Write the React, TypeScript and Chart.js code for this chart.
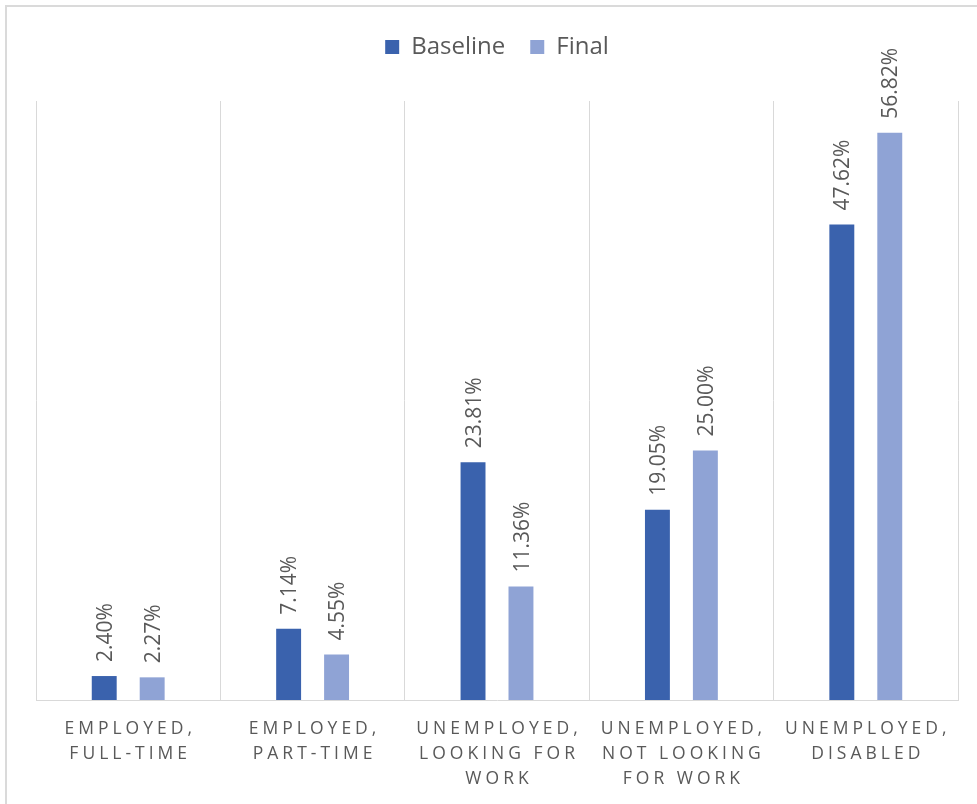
import React, { useEffect, useRef } from "react";
import { Chart, registerables } from "chart.js";

Chart.register(...registerables);

const categoryLines: string[][] = [
  ["EMPLOYED,", "FULL-TIME"],
  ["EMPLOYED,", "PART-TIME"],
  ["UNEMPLOYED,", "LOOKING FOR", "WORK"],
  ["UNEMPLOYED,", "NOT LOOKING", "FOR WORK"],
  ["UNEMPLOYED,", "DISABLED"],
];
const categories = categoryLines.map((l) => l.join(" "));
const baselineValues = [2.4, 7.14, 23.81, 19.05, 47.62];
const finalValues = [2.27, 4.55, 11.36, 25.0, 56.82];
const seriesNames = ["Baseline", "Final"];
const seriesColors = ["#3a62ad", "#8fa3d5"];

const TEXT = "#595959";
const GRID = "#d9d9d9";
const FONT = '"Open Sans", "Liberation Sans", sans-serif';

const framePlugin = {
  id: "frame",
  beforeDraw(chart: any) {
    const ctx = chart.ctx;
    ctx.save();
    ctx.strokeStyle = "#dadada";
    ctx.lineWidth = 2;
    ctx.beginPath();
    ctx.moveTo(6, chart.height + 5);
    ctx.lineTo(6, 6);
    ctx.lineTo(chart.width + 5, 6);
    ctx.stroke();
    ctx.restore();
  },
};

const valueLabelPlugin = {
  id: "valueLabels",
  afterDatasetsDraw(chart: any) {
    const ctx = chart.ctx;
    const size = 21;
    ctx.save();
    ctx.font = `${size}px ${FONT}`;
    ctx.fillStyle = TEXT;
    ctx.textAlign = "left";
    ctx.textBaseline = "alphabetic";
    chart.data.datasets.forEach((ds: any, di: number) => {
      const meta = chart.getDatasetMeta(di);
      meta.data.forEach((bar: any, i: number) => {
        const v = ds.data[i];
        const { x, y } = bar.getProps(["x", "y"], true);
        ctx.save();
        ctx.translate(x + size * 0.36, y - 14);
        ctx.rotate(-Math.PI / 2);
        ctx.fillText(v.toFixed(2) + "%", 0, 0);
        ctx.restore();
      });
    });
    ctx.restore();
  },
};

const xLabelPlugin = {
  id: "xLabels",
  afterDraw(chart: any) {
    const ctx = chart.ctx;
    const xs = chart.scales.x;
    ctx.save();
    ctx.font = `17.5px ${FONT}`;
    ctx.fillStyle = TEXT;
    ctx.textAlign = "center";
    ctx.textBaseline = "alphabetic";
    (ctx as any).letterSpacing = "4px";
    categoryLines.forEach((lines, i) => {
      const cx = xs.getPixelForValue(i) + 2;
      lines.forEach((ln, j) => {
        ctx.fillText(ln, cx, xs.top + 34 + j * 25);
      });
    });
    ctx.restore();
  },
};

export default function App() {
  const ref = useRef<HTMLCanvasElement | null>(null);

  useEffect(() => {
    if (!ref.current) return;
    const chart = new Chart(ref.current, {
      type: "bar",
      data: {
        labels: categories,
        datasets: [
          {
            label: seriesNames[0],
            data: baselineValues,
            backgroundColor: seriesColors[0],
            borderWidth: 0,
            categoryPercentage: 0.52,
            barPercentage: 0.52,
          },
          {
            label: seriesNames[1],
            data: finalValues,
            backgroundColor: seriesColors[1],
            borderWidth: 0,
            categoryPercentage: 0.52,
            barPercentage: 0.52,
          },
        ],
      },
      options: {
        responsive: false,
        animation: false,
        devicePixelRatio: 1,
        layout: { padding: { top: 10, left: 36, right: 19, bottom: 0 } },
        plugins: {
          legend: {
            position: "top",
            labels: {
              boxWidth: 14,
              boxHeight: 14,
              padding: 25,
              color: TEXT,
              font: { family: FONT, size: 24 },
            },
          },
          tooltip: { enabled: false },
        },
        scales: {
          x: {
            position: "bottom",
            grid: { color: GRID, offset: true, drawTicks: false, lineWidth: 1 },
            border: { color: GRID, width: 1 },
            ticks: { display: false },
            afterFit: (s: any) => {
              s.height = 104;
            },
          },
          xTop: {
            type: "category",
            position: "top",
            grid: { display: false },
            border: { display: false },
            ticks: { display: false },
            afterFit: (s: any) => {
              s.height = 32;
            },
          },
          y: {
            display: false,
            min: 0,
            max: 60,
          },
        },
      },
      plugins: [framePlugin, valueLabelPlugin, xLabelPlugin],
    });
    return () => chart.destroy();
  }, []);

  return (
    <div style={{ position: "absolute", left: 0, top: 0, width: 977, height: 804 }}>
      <canvas ref={ref} width={977} height={804} style={{ display: "block" }} />
    </div>
  );
}
